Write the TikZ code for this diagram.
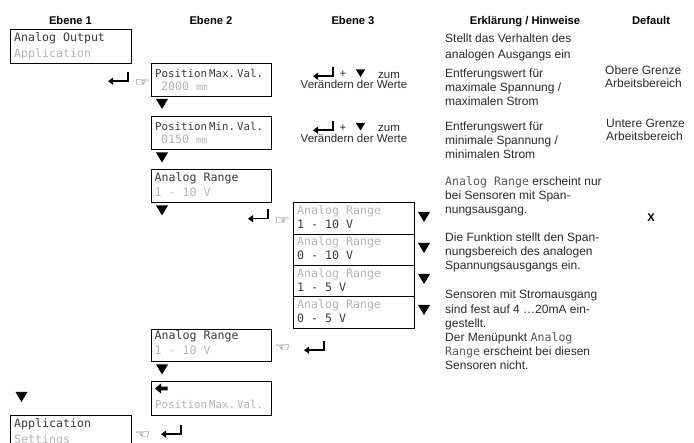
\documentclass[tikz,border=0pt]{standalone}
\usepackage{fontspec}
\setmainfont{Liberation Sans}
\newfontfamily\lcdface{DejaVu Sans Mono}
\newfontfamily\handface{DejaVu Sans}
\definecolor{lcddark}{HTML}{3A3A3A}
\definecolor{lcdgrey}{HTML}{B4B4B4}
\definecolor{notetext}{HTML}{2A2A2A}
\newcommand{\lcdinline}[1]{{\lcdface\fontsize{11.6}{14}\selectfont\color{lcddark!85}#1}}
\newcommand{\posname}[2]{Position\hspace{2pt}#1\hspace{2pt}#2}
\newcommand{\wide}[1]{\scalebox{1.45}[1]{#1}}
\tikzset{
  x=1pt,y=-1pt,
  lcdbox/.style={draw=black,line width=0.9pt,anchor=north west,inner sep=0,fill=white},
  lcd/.style={anchor=base west,inner sep=0,text=lcddark,font=\lcdface\fontsize{11.6}{14}\selectfont},
  lcdg/.style={lcd,text=lcdgrey},
  lcdn/.style={lcd,font=\lcdface\fontsize{10.8}{14}\selectfont},
  lcdng/.style={lcdn,text=lcdgrey},
  hdr/.style={anchor=base,inner sep=0,font=\fontsize{11.2}{13}\selectfont\bfseries,text=black},
  note/.style={anchor=base west,inner sep=0,align=left,text=notetext,font=\fontsize{12}{14.2}\selectfont},
  small/.style={anchor=base,inner sep=0,text=notetext,font=\fontsize{11.5}{13}\selectfont},
  hand/.style={inner sep=0,text=black!80,font=\handface\fontsize{12}{12}\selectfont},
  down/.pic={\fill[black] (-6,-5) -- (6,-5) -- (0,5) -- cycle;},
  smalldown/.pic={\fill[black] (-4.7,-3.5) -- (4.7,-3.5) -- (0,4) -- cycle;},
  enter/.pic={
    \draw[black,line width=1.5pt] (10,-5) -- (10,4.2) -- (-7,4.2);
    \fill[black] (-10,4.2) -- (-5,0.6) -- (-5,7.8) -- cycle;},
}
\newcommand{\lcdframe}[4]{\node[lcdbox,minimum width=#3pt,minimum height=#4pt] (#1) at (#2) {};}
\begin{document}
\begin{tikzpicture}
\useasboundingbox[fill=white] (0,0) rectangle (694,443);
% headers
\node[hdr] (h1) at (70.5,25) {Ebene 1};
\node[hdr] (h2) at (211,25) {Ebene 2};
\node[hdr] (h3) at (353,25) {Ebene 3};
\node[hdr] (h4) at (525,25) {Erklärung / Hinweise};
\node[hdr] (h5) at (651,25) {Default};
% boxes
\lcdframe{b1}{10,29}{121}{34}
\node[lcd] (b1a) at (14,42) {Analog Output};
\node[lcdg] (b1b) at (14,58) {Application};
\lcdframe{pmax}{151,63}{120}{33}
\node[lcdn] (pmaxa) at (155,78) {\posname{Max.}{Val.}};
\node[lcdg] (pmaxb) at (161,91) {2000 {\fontsize{9.5}{12}\selectfont mm}};
\lcdframe{pmin}{151,116}{120}{33}
\node[lcdn] (pmina) at (155,131) {\posname{Min.}{Val.}};
\node[lcdg] (pminb) at (161,144) {0150 {\fontsize{9.5}{12}\selectfont mm}};
\lcdframe{ar1}{151,169}{120}{33}
\node[lcd] (ar1a) at (154.5,182) {Analog Range};
\node[lcdg] (ar1b) at (154.5,197) {1 - 10 V};
\lcdframe{e1}{293,202}{121}{32}
\node[lcdg] (e1a) at (297,215) {Analog Range};
\node[lcd] (e1b) at (297,229) {1 - 10 V};
\lcdframe{e2}{293,234}{121}{31}
\node[lcdg] (e2a) at (297,246) {Analog Range};
\node[lcd] (e2b) at (297,260) {0 - 10 V};
\lcdframe{e3}{293,265}{121}{31}
\node[lcdg] (e3a) at (297,278) {Analog Range};
\node[lcd] (e3b) at (297,292) {1 - 5 V};
\lcdframe{e4}{293,296}{121}{32}
\node[lcdg] (e4a) at (297,309) {Analog Range};
\node[lcd] (e4b) at (297,323) {0 - 5 V};
\lcdframe{ar2}{151,329}{120}{32}
\node[lcd] (ar2a) at (154.5,340) {Analog Range};
\node[lcdg] (ar2b) at (154.5,355) {1 - 10 V};
\lcdframe{back}{151,381}{120}{34}
\fill[black] (155,388.5) -- (161,383.5) -- (161,386.6) -- (167.5,386.6) -- (167.5,390.4) -- (161,390.4) -- (161,393.5) -- cycle;
\node[lcdng] (backb) at (155,409) {\posname{Max.}{Val.}};
\lcdframe{app}{10,415.5}{121}{40}
\node[lcd] (appa) at (14,428) {Application};
\node[lcdg] (appb) at (14,444) {Settings};
% triangles
\pic at (162,104) {down};
\pic at (162,157.5) {down};
\pic at (162,210.5) {down};
\pic at (162,369.5) {down};
\pic at (21.5,397) {down};
\pic at (424,217) {down};
\pic at (424,248) {down};
\pic at (424,279) {down};
\pic at (424,310) {down};
% return arrows
\pic at (118,77) {enter};
\pic at (258,214.5) {enter};
\pic at (314,346) {enter};
\pic at (171,430) {enter};
\pic at (323,72) {enter};
\pic at (323,126) {enter};
% hands
\node[hand] (hr1) at (142.5,83) {\wide{☞}};
\node[hand] (hr2) at (282.5,221.5) {\wide{☞}};
\node[hand] (hl1) at (282.5,348) {\wide{☜}};
\node[hand] (hl2) at (142.5,435) {\wide{☜}};
% Ebene 3 hints
\node[small] (p1) at (343,78) {+};
\pic at (360.5,73) {smalldown};
\node[small] (z1) at (389,78.5) {zum};
\node[small] (v1) at (354,89) {Verändern der Werte};
\node[small] (p2) at (343,132) {+};
\pic at (360.5,126.5) {smalldown};
\node[small] (z2) at (389,132) {zum};
\node[small] (v2) at (354,143) {Verändern der Werte};
% notes
\node[note,font=\fontsize{12}{16.7}\selectfont] (n1) at (445,59) {Stellt das Verhalten des\\analogen Ausgangs ein};
\node[note] (n2) at (445,106) {Entferungswert für\\maximale Spannung /\\maximalen Strom};
\node[note] (n3) at (445,159) {Entferungswert für\\minimale Spannung /\\minimalen Strom};
\node[note] (n4) at (445,214) {\lcdinline{Analog Range} erscheint nur\\bei Sensoren mit Span-\\nungsausgang.};
\node[note] (n5) at (445,270) {Die Funktion stellt den Span-\\nungsbereich des analogen\\Spannungsausgangs ein.};
\node[note] (n6) at (445,370) {Sensoren mit Stromausgang\\sind fest auf 4 …20mA ein-\\gestellt.\\Der Menüpunkt \lcdinline{Analog}\\\lcdinline{Range} erscheint bei diesen\\Sensoren nicht.};
% defaults
\node[note,font=\fontsize{12}{13.4}\selectfont] (d1) at (605,88) {Obere Grenze\\Arbeitsbereich};
\node[note,font=\fontsize{12}{13.4}\selectfont] (d2) at (606,141) {Untere Grenze\\Arbeitsbereich};
\node[hdr] (x) at (651,222) {X};
\end{tikzpicture}
\end{document}
